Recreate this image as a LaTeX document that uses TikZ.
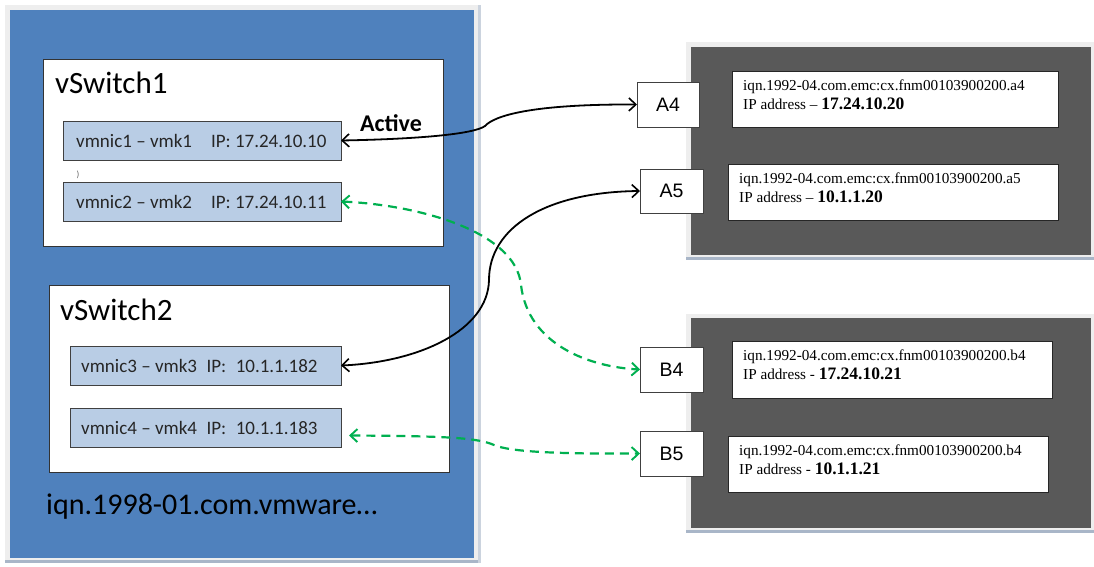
\documentclass[tikz,border=0pt]{standalone}
\usepackage{fontspec}
\setmainfont{Liberation Serif}
\newfontfamily\carlitofont{Carlito}
\newfontfamily\arialfont{Liberation Sans}
\usetikzlibrary{arrows.meta}

\definecolor{hostblue}{HTML}{4F81BD}
\definecolor{nicblue}{HTML}{B9CDE5}
\definecolor{arraygray}{HTML}{595959}
\definecolor{framegray}{HTML}{EEEEEE}
\definecolor{shadowline}{HTML}{A9B6C8}
\definecolor{pathgreen}{HTML}{00B050}

\tikzset{
  boxat/.style={anchor=north west, inner sep=0pt, outer sep=0pt},
  switchbox/.style={boxat, draw=black!80, line width=0.8pt, fill=white},
  nicbox/.style={boxat, draw=black!75, line width=0.8pt, fill=nicblue,
    minimum width=278pt, minimum height=39pt},
  portbox/.style={boxat, draw=black!75, line width=0.8pt, fill=white,
    minimum width=62pt, minimum height=45pt, font=\arialfont\fontsize{19.5}{20}\selectfont},
  infobox/.style={boxat, draw=black!85, line width=0.8pt, fill=white,
    minimum height=56pt},
  nictext/.style={anchor=west, inner sep=0pt, text=black!85,
    font=\carlitofont\fontsize{19}{20}\selectfont},
  infotext/.style={anchor=north west, inner sep=0pt, align=left,
    font=\fontsize{15.2}{19}\selectfont},
  solidlink/.style={draw=black, line width=1.8pt},
  greenlink/.style={draw=pathgreen, line width=2.2pt, dash pattern=on 9pt off 6pt},
  blackends/.style={{Straight Barb[length=7pt,width=13pt,line width=1.6pt]}-{Straight Barb[length=7pt,width=13pt,line width=1.6pt]}},
  greenends/.style={{Straight Barb[length=7pt,width=13pt,line width=1.9pt]}-{Straight Barb[length=7pt,width=13pt,line width=1.9pt]}},
}

\begin{document}
\begin{tikzpicture}[x=1pt,y=-1pt]
\useasboundingbox (0,0) rectangle (1094,566);
\fill[white] (0,0) rectangle (1094,566);

% ---------- host panel ----------
\fill[framegray] (5,5) rectangle (481,563);
\fill[shadowline] (5,560) rectangle (481,563);
\fill[shadowline!60] (478,5) rectangle (481,563);
\node[boxat, fill=hostblue, minimum width=464pt, minimum height=548pt] (host) at (10,10) {};

% vSwitch1
\node[switchbox, minimum width=400pt, minimum height=187pt] (vs1) at (43,59) {};
\node[anchor=west, inner sep=0pt, font=\carlitofont\fontsize{31}{34}\selectfont] (vs1t) at (55,83) {vSwitch1};
\node[nicbox] (n1) at (63,121) {};
\node[nictext] (n1t) at (76,140.5) {vmnic1 \textendash\ vmk1\quad IP: 17.24.10.10};
\node[nicbox] (n2) at (63,182) {};
\node[nictext] (n2t) at (76,201.5) {vmnic2 \textendash\ vmk2\quad IP: 17.24.10.11};
\node[inner sep=0pt, text=black!60, font=\carlitofont\fontsize{9}{9}\selectfont] (tick) at (78,175) {)};

% vSwitch2
\node[switchbox, minimum width=400pt, minimum height=187pt] (vs2) at (49,285) {};
\node[anchor=west, inner sep=0pt, font=\carlitofont\fontsize{31}{34}\selectfont] (vs2t) at (60,310) {vSwitch2};
\node[nicbox, minimum width=271pt] (n3) at (70,346) {};
\node[nictext] (n3t) at (81,366) {vmnic3 \textendash\ vmk3\enspace IP:\enspace 10.1.1.182};
\node[nicbox, minimum width=271pt] (n4) at (70,408) {};
\node[nictext] (n4t) at (81,428) {vmnic4 \textendash\ vmk4\enspace IP:\enspace 10.1.1.183};

\node[anchor=west, inner sep=0pt, font=\carlitofont\fontsize{30}{32}\selectfont] (hostiqn) at (46,507) {iqn.1998-01.com.vmware\dots};

% ---------- array A ----------
\fill[framegray] (686,42) rectangle (1094,260);
\fill[shadowline] (686,257) rectangle (1094,260);
\node[boxat, fill=arraygray, minimum width=400pt, minimum height=208pt] (arrA) at (691,47) {};
\node[infobox, minimum width=326pt] (ia4) at (732,71) {};
\node[infotext] (ia4t) at (743,80) {iqn.1992-04.com.emc:cx.fnm00103900200.a4\\
  IP address \textendash\ {\bfseries\fontsize{17.5}{18}\selectfont 17.24.10.20}};
\node[infobox, minimum width=330pt] (ia5) at (728,164) {};
\node[infotext] (ia5t) at (739,173) {iqn.1992-04.com.emc:cx.fnm00103900200.a5\\
  IP address \textendash\ {\bfseries\fontsize{17.5}{18}\selectfont 10.1.1.20}};
\node[portbox] (a4) at (637,82) {A4};
\node[portbox, minimum width=63pt, minimum height=44pt] (a5) at (640,169) {A5};

% ---------- array B ----------
\fill[framegray] (686,314) rectangle (1094,533);
\fill[shadowline] (686,530) rectangle (1094,533);
\node[boxat, fill=arraygray, minimum width=400pt, minimum height=210pt] (arrB) at (691,318) {};
\node[infobox, minimum width=320pt, minimum height=57pt] (ib4) at (732,341) {};
\node[infotext] (ib4t) at (743,350) {iqn.1992-04.com.emc:cx.fnm00103900200.b4\\
  IP address - {\bfseries\fontsize{17.5}{18}\selectfont 17.24.10.21}};
\node[infobox, minimum width=320pt] (ib5) at (728,436) {};
\node[infotext] (ib5t) at (739,445) {iqn.1992-04.com.emc:cx.fnm00103900200.b4\\
  IP address - {\bfseries\fontsize{17.5}{18}\selectfont 10.1.1.21}};
\node[portbox, minimum width=63pt] (b4) at (640,347) {B4};
\node[portbox, minimum width=63pt] (b5) at (640,431) {B5};

% ---------- paths ----------
\node[inner sep=0pt, font=\carlitofont\bfseries\fontsize{24}{26}\selectfont] (active) at (391,123) {Active};

\draw[solidlink, blackends]
  (n1.east) .. controls (420,139) and (474,134) .. (485,126)
  .. controls (494,116) and (530,104) .. (a4.west);
\draw[solidlink, blackends]
  (n3.east) .. controls (420,362) and (488,330) .. (489,280)
  .. controls (489,228) and (545,192) .. (a5.west);

\draw[greenlink, greenends]
  (n2.east) .. controls (420,205) and (516,232) .. (521,285)
  .. controls (528,345) and (590,367) .. (b4.west);
\draw[greenlink, greenends]
  ([xshift=8pt,yshift=-8pt]n4.east) .. controls (450,436) and (478,438) .. (494,445)
  .. controls (510,452) and (560,454) .. (b5.west);
\end{tikzpicture}
\end{document}
